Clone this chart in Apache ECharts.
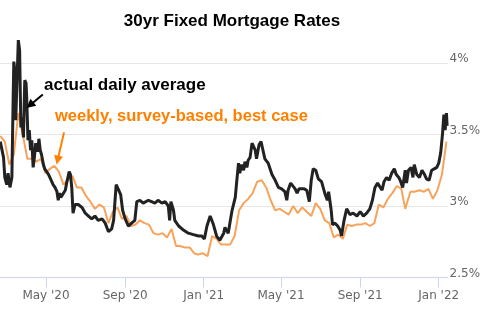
<!DOCTYPE html>
<html>
<head>
<meta charset="utf-8">
<script src="https://cdn.jsdelivr.net/npm/echarts@6/dist/echarts.min.js"></script>
<style>
html,body{margin:0;padding:0;background:#fff;}
#chart{width:486px;height:323px;}
</style>
</head>
<body>
<div id="chart"></div>
<script>
// ---- data ----
const chartTitle = '30yr Fixed Mortgage Rates';
const dailyLabel = 'actual daily average';
const weeklyLabel = 'weekly, survey-based, best case';

const dailyDates = ['2020-02-20','2020-02-22','2020-02-25','2020-02-27','2020-03-01','2020-03-03','2020-03-06','2020-03-09','2020-03-11','2020-03-12','2020-03-14','2020-03-15','2020-03-17','2020-03-19','2020-03-21','2020-03-23','2020-03-24','2020-03-27','2020-03-29','2020-03-31','2020-04-01','2020-04-03','2020-04-05','2020-04-07','2020-04-09','2020-04-11','2020-04-13','2020-04-15','2020-04-18','2020-04-20','2020-04-22','2020-04-24','2020-04-27','2020-04-29','2020-05-02','2020-05-05','2020-05-07','2020-05-10','2020-05-12','2020-05-15','2020-05-18','2020-05-20','2020-05-22','2020-05-24','2020-05-27','2020-05-31','2020-06-02','2020-06-05','2020-06-06','2020-06-08','2020-06-10','2020-06-12','2020-06-15','2020-06-20','2020-06-23','2020-06-26','2020-07-01','2020-07-06','2020-07-11','2020-07-16','2020-07-21','2020-07-27','2020-08-01','2020-08-06','2020-08-11','2020-08-14','2020-08-18','2020-08-21','2020-08-25','2020-08-28','2020-09-01','2020-09-06','2020-09-11','2020-09-16','2020-09-19','2020-09-24','2020-09-29','2020-10-02','2020-10-07','2020-10-12','2020-10-17','2020-10-22','2020-10-28','2020-11-02','2020-11-07','2020-11-09','2020-11-11','2020-11-15','2020-11-17','2020-11-23','2020-12-01','2020-12-08','2020-12-16','2020-12-24','2020-12-29','2021-01-02','2021-01-06','2021-01-11','2021-01-16','2021-01-21','2021-01-26','2021-02-01','2021-02-03','2021-02-08','2021-02-11','2021-02-14','2021-02-19','2021-02-21','2021-02-24','2021-02-26','2021-03-01','2021-03-04','2021-03-06','2021-03-09','2021-03-11','2021-03-14','2021-03-17','2021-03-19','2021-03-22','2021-03-24','2021-03-28','2021-03-31','2021-04-03','2021-04-06','2021-04-11','2021-04-17','2021-04-22','2021-04-27','2021-05-02','2021-05-07','2021-05-10','2021-05-12','2021-05-16','2021-05-19','2021-05-23','2021-05-26','2021-05-29','2021-06-01','2021-06-06','2021-06-10','2021-06-14','2021-06-17','2021-06-20','2021-06-24','2021-06-28','2021-07-03','2021-07-08','2021-07-12','2021-07-14','2021-07-18','2021-07-20','2021-07-24','2021-07-28','2021-08-01','2021-08-03','2021-08-07','2021-08-11','2021-08-16','2021-08-21','2021-08-27','2021-09-01','2021-09-06','2021-09-11','2021-09-16','2021-09-20','2021-09-24','2021-09-28','2021-10-01','2021-10-05','2021-10-08','2021-10-12','2021-10-16','2021-10-20','2021-10-24','2021-10-27','2021-10-31','2021-11-03','2021-11-06','2021-11-10','2021-11-12','2021-11-15','2021-11-19','2021-11-22','2021-11-24','2021-11-28','2021-12-02','2021-12-06','2021-12-10','2021-12-13','2021-12-17','2021-12-21','2021-12-25','2021-12-29','2022-01-01','2022-01-04','2022-01-07','2022-01-09','2022-01-11','2022-01-13','2022-01-14'];
const dailyRates = [3.45,3.44,3.34,3.20,3.15,3.23,3.13,3.20,3.76,4.01,3.93,3.60,3.88,4.16,4.09,3.55,3.62,3.48,3.88,3.86,3.76,3.46,3.53,3.39,3.46,3.27,3.34,3.44,3.38,3.47,3.39,3.36,3.29,3.26,3.24,3.22,3.20,3.21,3.15,3.13,3.10,3.04,3.09,3.06,3.06,3.11,3.16,3.22,3.24,3.22,3.13,2.95,3.01,3.01,3.02,2.99,2.95,2.93,2.91,2.93,2.90,2.91,2.88,2.82,2.84,2.90,3.15,3.12,3.08,2.97,2.91,2.86,2.88,2.90,3.03,3.04,3.02,3.03,3.04,3.03,3.02,3.04,3.02,3.03,3.00,2.90,3.03,2.97,2.90,2.86,2.83,2.81,2.80,2.79,2.79,2.77,2.86,2.93,2.87,2.79,2.76,2.81,2.85,2.81,2.89,2.97,3.06,3.16,3.30,3.23,3.29,3.25,3.31,3.27,3.32,3.34,3.44,3.45,3.39,3.33,3.43,3.45,3.39,3.33,3.30,3.22,3.18,3.13,3.12,3.10,3.04,3.11,3.16,3.17,3.12,3.09,3.12,3.13,3.12,3.11,3.03,3.18,3.26,3.25,3.19,3.17,3.09,3.04,3.10,2.97,2.87,2.88,2.86,2.83,2.79,2.90,2.98,2.94,2.95,2.93,2.96,2.93,2.95,2.98,3.04,3.13,3.16,3.15,3.11,3.17,3.20,3.18,3.23,3.26,3.22,3.20,3.17,3.13,3.25,3.16,3.25,3.27,3.20,3.29,3.22,3.20,3.25,3.22,3.19,3.18,3.25,3.26,3.27,3.30,3.37,3.51,3.64,3.53,3.65,3.56];

const weeklyDates = ['2020-02-20','2020-02-27','2020-03-05','2020-03-12','2020-03-19','2020-03-26','2020-04-02','2020-04-09','2020-04-16','2020-04-23','2020-04-30','2020-05-07','2020-05-14','2020-05-21','2020-05-28','2020-06-04','2020-06-11','2020-06-18','2020-06-25','2020-07-02','2020-07-09','2020-07-16','2020-07-23','2020-07-30','2020-08-06','2020-08-13','2020-08-20','2020-08-27','2020-09-03','2020-09-10','2020-09-17','2020-09-24','2020-10-01','2020-10-08','2020-10-15','2020-10-22','2020-10-29','2020-11-05','2020-11-12','2020-11-19','2020-11-25','2020-12-03','2020-12-10','2020-12-17','2020-12-23','2020-12-30','2021-01-07','2021-01-14','2021-01-21','2021-01-28','2021-02-04','2021-02-11','2021-02-18','2021-02-25','2021-03-04','2021-03-11','2021-03-18','2021-03-25','2021-04-01','2021-04-08','2021-04-15','2021-04-22','2021-04-29','2021-05-06','2021-05-13','2021-05-20','2021-05-27','2021-06-03','2021-06-10','2021-06-17','2021-06-24','2021-07-01','2021-07-08','2021-07-15','2021-07-22','2021-07-29','2021-08-05','2021-08-12','2021-08-19','2021-08-26','2021-09-02','2021-09-09','2021-09-16','2021-09-23','2021-09-30','2021-10-07','2021-10-14','2021-10-21','2021-10-28','2021-11-04','2021-11-10','2021-11-18','2021-11-24','2021-12-02','2021-12-09','2021-12-16','2021-12-23','2021-12-30','2022-01-06','2022-01-13'];
const weeklyRates = [3.49,3.45,3.29,3.36,3.65,3.50,3.33,3.33,3.31,3.33,3.23,3.26,3.28,3.24,3.15,3.18,3.21,3.13,3.13,3.07,3.03,2.98,3.01,2.99,2.88,2.96,2.99,2.91,2.93,2.86,2.87,2.90,2.88,2.87,2.81,2.80,2.81,2.78,2.84,2.72,2.72,2.71,2.71,2.67,2.66,2.67,2.65,2.79,2.77,2.73,2.73,2.73,2.79,2.97,3.02,3.05,3.09,3.17,3.18,3.13,3.04,2.97,2.98,2.96,2.94,3.00,2.95,2.99,2.96,2.93,3.02,2.98,2.90,2.88,2.78,2.80,2.77,2.87,2.86,2.87,2.87,2.88,2.86,2.88,3.01,2.99,3.05,3.09,3.14,3.12,2.98,3.10,3.10,3.11,3.10,3.12,3.05,3.11,3.22,3.45];

const xTickDates = ['2020-05-01','2020-09-01','2021-01-01','2021-05-01','2021-09-01','2022-01-01'];
const xTickLabels = ["May '20","Sep '20","Jan '21","May '21","Sep '21","Jan '22"];
const yTickValues = [2.5, 3, 3.5, 4];
const yTickLabels = ['2.5%','3%','3.5%','4%'];

// annotation arrows (data coordinates: [date, rate])
const dailyArrow = [['2020-04-26', 3.78], ['2020-04-06', 3.705]];
const weeklyArrow = [['2020-05-29', 3.515], ['2020-05-19', 3.32]];

// ---- helpers ----
function t(s) {
  const p = s.split(/[- :T]/).map(Number);
  return new Date(p[0], p[1] - 1, p[2], p[3] || 0, p[4] || 0).getTime();
}
const daily = dailyDates.map((d, i) => [t(d), dailyRates[i]]);
const weekly = weeklyDates.map((d, i) => [t(d), weeklyRates[i]]);
const xTicks = xTickDates.map(t);
const arrow = a => [[{coord: [t(a[0][0]), a[0][1]]}, {coord: [t(a[1][0]), a[1][1]]}]];

const ORANGE_TEXT = '#ff8000';
const chart = echarts.init(document.getElementById('chart'), null, {renderer: 'canvas'});
chart.setOption({
  animation: false,
  backgroundColor: '#ffffff',
  title: {
    text: chartTitle,
    left: 232, top: 13, padding: 0,
    textAlign: 'center',
    textStyle: {fontFamily: '"Liberation Sans", Arial, sans-serif', fontWeight: 'bold', fontSize: 17, color: '#000'}
  },
  grid: {left: 0, right: 38.4, top: 34.4, bottom: 45.5, containLabel: false, outerBoundsMode: 'none'},
  xAxis: {
    type: 'value',
    min: t('2020-02-19 13:00'),
    max: t('2022-01-14 19:00'),
    axisLine: {show: true, lineStyle: {color: '#ccd6eb', width: 1}},
    axisTick: {show: true, length: 10, lineStyle: {color: '#ccd6eb'}, customValues: xTicks},
    axisLabel: {
      customValues: xTicks,
      margin: 12,
      color: '#666666',
      fontFamily: '"DejaVu Sans", Verdana, sans-serif',
      fontSize: 12,
      formatter: v => { const i = xTicks.indexOf(v); return i >= 0 ? xTickLabels[i] : ''; }
    },
    splitLine: {show: false}
  },
  yAxis: {
    type: 'value',
    position: 'right',
    min: 2.5, max: 4.2,
    axisLine: {show: false},
    axisTick: {show: false, customValues: yTickValues},
    axisLabel: {
      customValues: yTickValues,
      margin: 2,
      color: '#666666',
      fontFamily: '"DejaVu Sans", Verdana, sans-serif',
      fontSize: 12,
      verticalAlign: 'bottom',
      lineHeight: 8,
      formatter: v => { const i = yTickValues.indexOf(v); return i >= 0 ? yTickLabels[i] : ''; }
    },
    splitLine: {show: true, lineStyle: {color: '#e6e6e6', width: 1}}
  },
  series: [
    {
      name: weeklyLabel, type: 'line', data: weekly, showSymbol: false, symbol: 'none',
      lineStyle: {color: '#f7a35c', width: 2}, z: 2, silent: true,
      markLine: {
        silent: true, symbol: ['none', 'triangle'], symbolSize: [9, 9],
        label: {show: false},
        lineStyle: {color: ORANGE_TEXT, width: 2, type: 'solid'},
        data: arrow(weeklyArrow)
      }
    },
    {
      name: dailyLabel, type: 'line', data: daily, showSymbol: false, symbol: 'none',
      lineStyle: {color: '#222222', width: 3}, z: 3, silent: true,
      markLine: {
        silent: true, symbol: ['none', 'triangle'], symbolSize: [9, 9],
        label: {show: false},
        lineStyle: {color: '#000000', width: 2, type: 'solid'},
        data: arrow(dailyArrow)
      }
    }
  ],
  graphic: [
    {type: 'text', left: 44, top: 77.3, silent: true,
     style: {text: dailyLabel, font: 'bold 17px "Liberation Sans", Arial, sans-serif', fill: '#000000'}},
    {type: 'text', left: 55, top: 107.6, silent: true,
     style: {text: weeklyLabel, font: 'bold 16.5px "Liberation Sans", Arial, sans-serif', fill: ORANGE_TEXT}}
  ]
});
</script>
</body>
</html>
